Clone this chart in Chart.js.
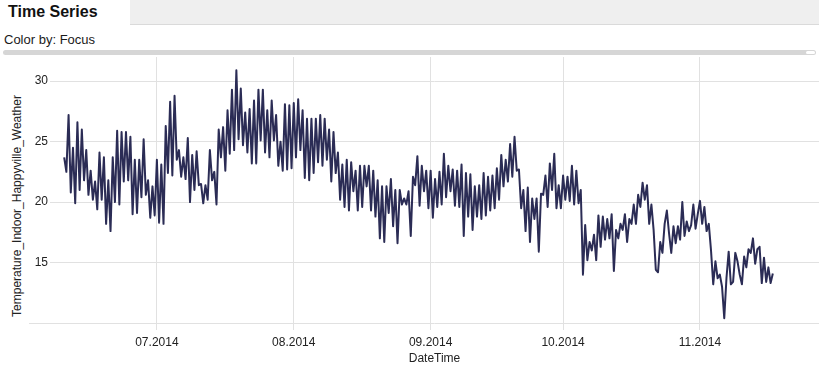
<!DOCTYPE html>
<html>
<head>
<meta charset="utf-8">
<script src="https://cdn.jsdelivr.net/npm/chart.js@4.4.1/dist/chart.umd.min.js"></script>
<style>
  body { margin:0; width:819px; height:376px; overflow:hidden; background:#fff; position:relative;
         font-family:"Liberation Sans", Arial, sans-serif; color:#1a1a1a; }
  #tabbar { position:absolute; left:130px; top:0; width:689px; height:25px; background:#efefef;
            border-bottom:1px solid #dadada; box-sizing:border-box; }
  #tab { position:absolute; left:8px; top:3px; font-weight:bold; font-size:16px; color:#111; }
  #colorby { position:absolute; left:4px; top:32px; font-size:13px; }
  #scroll { position:absolute; left:3px; top:50px; width:813px; height:5px; background:#d6d6d6; border-radius:3px; }
  #knob { position:absolute; right:1px; top:1px; width:9px; height:3px; background:#fff; border-radius:2px; }
  #ytitle { position:absolute; left:17px; top:206px; transform:translate(-50%,-50%) rotate(-90deg);
            font-size:12px; white-space:nowrap; color:#222; }
  #chart { position:absolute; left:0; top:57px; }
</style>
</head>
<body>
<div id="tabbar"></div>
<div id="tab">Time Series</div>
<div id="colorby">Color by: Focus</div>
<div id="scroll"><div id="knob"></div></div>
<div id="ytitle">Temperature_Indoor_Happyville_Weather</div>
<canvas id="chart" width="819" height="319"></canvas>
<script>
// readings every 12 hours, starting 10 June 2014 00:00
const startDate = Date.UTC(2014, 5, 10);
const stepHours = 12;

const temps = [
  // June / early July
  23.7, 22.5, 27.2, 20.8, 24.5, 19.9, 26.6, 21.0, 26.0, 21.8,
  24.3, 20.6, 22.6, 20.2, 21.7, 19.4, 24.1, 20.2, 23.7, 18.2,
  21.8, 17.6, 23.7, 20.0, 25.9, 19.8, 25.8, 21.7, 25.8, 21.8,
  25.4, 19.0, 23.5, 19.1, 23.5, 20.4, 25.2, 20.6, 21.8, 18.7,
  21.3, 18.9, 23.5, 18.3, 23.1, 18.2, 26.3, 22.4, 28.3, 22.2,
  28.8, 23.5, 24.3, 22.1, 23.7, 21.9, 25.3, 20.0, 23.9, 21.0,
  24.2, 21.4, 21.5, 19.9, 21.4, 20.2, 24.3, 21.8, 22.5, 19.8,
  26.0, 23.7, 26.2, 22.6, 27.6, 24.0, 29.3,
  // late July / August
  24.3, 30.9, 25.2, 29.4, 24.7, 27.4, 24.1, 27.7, 23.2, 28.4,
  23.2, 29.3, 25.1, 29.3, 24.1, 27.6, 23.7, 28.4, 25.1, 27.2,
  23.0, 25.0, 22.6, 28.1, 22.7, 28.0, 22.8, 28.2, 23.7, 28.5,
  24.3, 27.6, 22.0, 26.9, 21.8, 26.9, 22.4, 26.9, 23.3, 27.2,
  23.0, 26.9, 23.5, 26.0, 21.7, 25.8, 22.4, 24.1, 20.2, 23.1,
  19.6, 23.5, 19.3, 23.3, 20.9, 22.6, 19.3, 23.0, 19.6, 23.0,
  21.3, 23.0, 19.3, 22.6, 18.8, 21.8, 17.0, 21.3, 16.7, 21.3,
  19.1, 21.9, 18.0, 21.0, 16.6, 21.0, 19.8,
  // late August / September
  20.3, 19.8, 20.9, 17.2, 22.1, 21.4, 23.8, 19.7, 23.0, 20.9,
  22.6, 19.5, 22.6, 18.7, 21.9, 19.6, 22.5, 19.8, 24.0, 20.4,
  23.0, 20.9, 22.7, 19.7, 22.6, 19.6, 23.1, 17.2, 22.4, 18.8,
  22.3, 17.7, 21.3, 18.8, 21.4, 18.6, 22.4, 18.9, 22.1, 19.3,
  22.2, 19.5, 22.8, 20.2, 23.9, 21.3, 23.5, 21.7, 24.8, 22.1,
  25.4, 22.6, 22.7, 19.5, 21.0, 17.6, 21.2, 16.7, 20.3, 18.6,
  20.3, 15.9, 20.7, 20.6, 22.2, 19.6, 23.2, 21.0, 24.0, 19.5,
  21.4, 19.5, 22.2, 20.2, 22.1, 20.1, 23.0,
  // October / November
  19.8, 22.6, 19.9, 21.0, 14.0, 18.1, 15.2, 16.7, 16.0, 17.3,
  15.2, 18.9, 16.3, 18.8, 16.9, 18.6, 17.0, 19.0, 14.3, 17.7,
  17.0, 18.2, 17.7, 19.0, 16.7, 18.6, 18.2, 19.8, 18.2, 20.6,
  19.6, 21.6, 20.2, 21.4, 18.2, 19.8, 17.7, 14.4, 14.2, 16.7,
  15.8, 18.2, 19.3, 17.4, 15.8, 18.0, 16.6, 18.0, 16.9, 20.0,
  17.2, 18.4, 17.6, 18.1, 19.8, 17.8, 19.0, 20.1, 18.2, 19.6,
  17.6, 18.2, 16.0, 13.2, 15.1, 13.7, 14.0, 13.0, 10.4, 13.7,
  15.9, 13.2, 13.4, 15.8, 15.1, 14.0, 13.2, 15.5, 14.6, 16.1,
  15.8, 17.0, 14.9, 16.1, 16.3, 13.3, 15.4, 13.4, 14.6, 13.3,
  14.1
];

const monthTicks = [
  Date.UTC(2014, 6, 1), Date.UTC(2014, 7, 1), Date.UTC(2014, 8, 1),
  Date.UTC(2014, 9, 1), Date.UTC(2014, 10, 1)
];
const yTicks = [10, 15, 20, 25, 30];
const xRange = [Date.UTC(2014, 5, 6, 19), Date.UTC(2014, 10, 27, 23)];
const yRange = [10, 32];

const points = temps.map((t, i) => ({ x: startDate + i * stepHours * 3600000, y: t }));

const gridColor = '#e1e1e1';
const textColor = '#222';
const font = { family: '"Liberation Sans", Arial, sans-serif', size: 12 };

function monthLabel(v) {
  const d = new Date(v);
  return String(d.getUTCMonth() + 1).padStart(2, '0') + '.' + d.getUTCFullYear();
}

new Chart(document.getElementById('chart'), {
  type: 'line',
  data: {
    datasets: [{
      data: points,
      borderColor: '#2b2c55',
      borderWidth: 2,
      borderJoinStyle: 'round',
      pointRadius: 0,
      tension: 0,
      fill: false
    }]
  },
  options: {
    responsive: false,
    animation: false,
    devicePixelRatio: 1,
    events: [],
    layout: { padding: 0 },
    plugins: { legend: { display: false }, tooltip: { enabled: false } },
    scales: {
      x: {
        type: 'linear',
        min: xRange[0],
        max: xRange[1],
        afterBuildTicks: s => { s.ticks = monthTicks.map(v => ({ value: v })); },
        afterFit: s => { s.height = 53; },
        border: { display: false },
        grid: { color: gridColor, tickLength: 7, tickColor: gridColor },
        ticks: { autoSkip: false, maxRotation: 0, padding: 5, color: textColor, font, callback: monthLabel },
        title: { display: true, text: 'DateTime', color: textColor, font, padding: { top: 0, bottom: 10 } }
      },
      y: {
        min: yRange[0],
        max: yRange[1],
        afterBuildTicks: s => { s.ticks = yTicks.map(v => ({ value: v })); },
        afterFit: s => { s.width = 50; },
        border: { display: false },
        grid: {
          color: gridColor,
          tickLength: 21,
          tickColor: c => (c.tick && c.tick.value === yRange[0]) ? gridColor : 'rgba(0,0,0,0)'
        },
        ticks: { padding: -19, color: textColor, font, callback: v => v === yRange[0] ? '' : v }
      }
    }
  }
});
</script>
</body>
</html>
